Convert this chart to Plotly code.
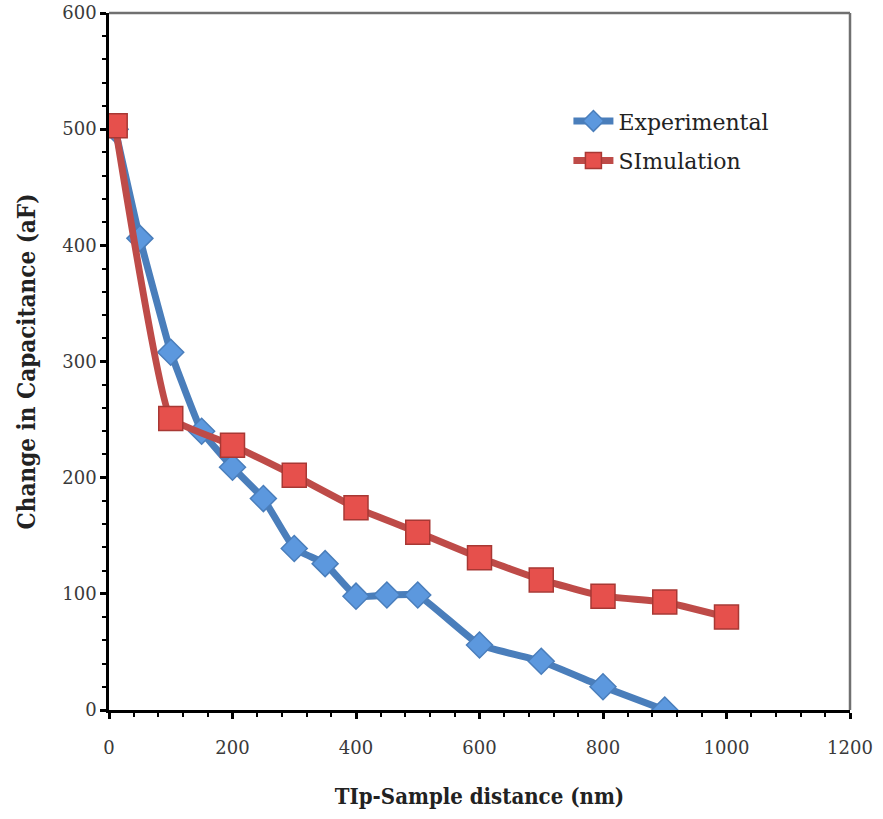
import plotly.graph_objects as go

# Data
exp_x = [10, 50, 100, 150, 200, 250, 300, 350, 400, 450, 500, 600, 700, 800, 900]
exp_y = [500, 406, 308, 240, 209, 182, 139, 126, 98, 99, 99, 56, 42, 20, 0]

sim_x = [10, 100, 200, 300, 400, 500, 600, 700, 800, 900, 1000]
sim_y = [503, 251, 228, 202, 174, 153, 131, 112, 98, 93, 80]

x_ticks = [0, 200, 400, 600, 800, 1000, 1200]
y_ticks = [0, 100, 200, 300, 400, 500, 600]

FONT = "DejaVu Serif"
TITLE_FONT = "DejaVu Serif Condensed, DejaVu Serif"

fig = go.Figure()
fig.add_trace(go.Scatter(
    x=exp_x, y=exp_y, mode="lines+markers", name="Experimental",
    legendgroup="a",
    line=dict(color="#4a7ebb", width=7, shape="spline", smoothing=0.3),
    marker=dict(symbol="diamond", size=20, color="#5c98de",
                line=dict(color="#4a7ebb", width=1.5)),
))
fig.add_trace(go.Scatter(
    x=sim_x, y=sim_y, mode="lines+markers", name="SImulation",
    legendgroup="b",
    line=dict(color="#be4b48", width=7, shape="spline", smoothing=0.3),
    marker=dict(symbol="square", size=24, color="#e6504c",
                line=dict(color="#a83834", width=1.5)),
))

axis_common = dict(
    showline=True, linecolor="black", linewidth=2.5,
    ticks="outside", ticklen=6, tickwidth=2.5, tickcolor="black",
    showgrid=False, zeroline=False, automargin=False,
    tickfont=dict(family=FONT, size=18, color="#3a3a3a"),
)

fig.update_xaxes(
    range=[0, 1200], tickvals=x_ticks, ticktext=[str(v) for v in x_ticks],
    minor=dict(ticks="outside", ticklen=4, tickwidth=2, tickcolor="black", dtick=40),
    ticklabelstandoff=14,
    title=dict(text="<b>TIp-Sample distance (nm)</b>",
               font=dict(family=TITLE_FONT, size=22, color="#222222"), standoff=32),
    **axis_common,
)
fig.update_yaxes(
    range=[0, 600], tickvals=y_ticks, ticktext=[str(v) for v in y_ticks],
    minor=dict(ticks="outside", ticklen=4, tickwidth=2, tickcolor="black", dtick=20),
    title=dict(text="<b>Change in Capacitance (aF)</b>",
               font=dict(family=TITLE_FONT, size=24, color="#222222"), standoff=20),
    **axis_common,
)

# gray top and right frame lines
fig.add_shape(type="line", xref="paper", yref="paper", x0=0, x1=1, y0=1, y1=1,
              line=dict(color="#707070", width=2.5))
fig.add_shape(type="line", xref="paper", yref="paper", x0=1, x1=1, y0=0, y1=1,
              line=dict(color="#707070", width=2.5))

fig.update_layout(
    width=883, height=819,
    margin=dict(l=109, r=33, t=13, b=109),
    plot_bgcolor="white", paper_bgcolor="white",
    showlegend=True,
    legend=dict(x=0.62, y=0.875, xanchor="left", yanchor="top",
                bgcolor="rgba(0,0,0,0)", itemwidth=40,
                font=dict(family=FONT, size=22, color="#222222"),
                tracegroupgap=8),
)

fig.write_html("out.html")
